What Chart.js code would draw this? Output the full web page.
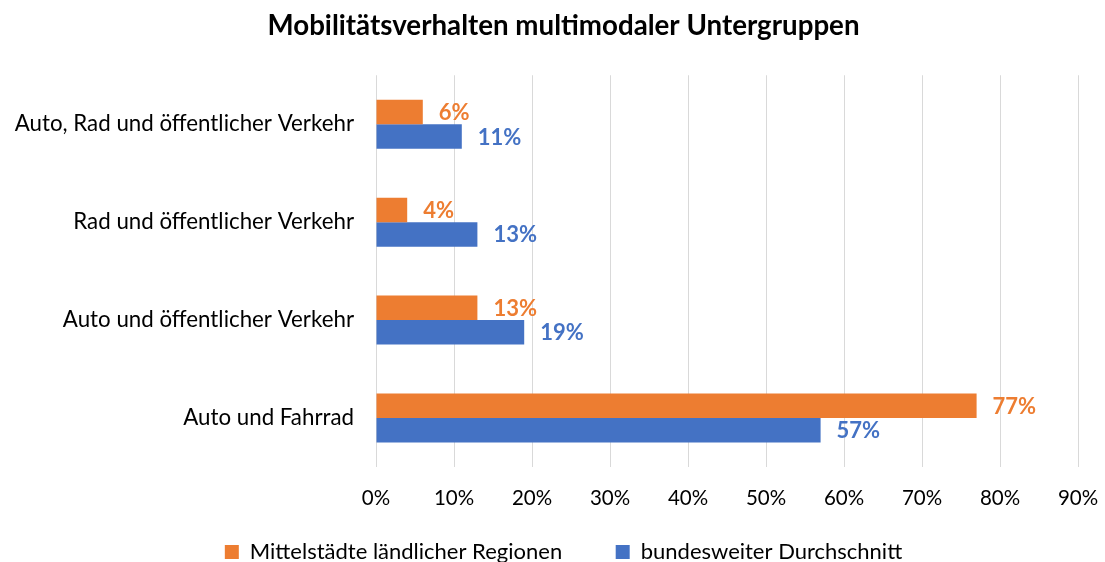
<!DOCTYPE html>
<html>
<head>
<meta charset="utf-8">
<script src="https://cdn.jsdelivr.net/npm/chart.js@4/dist/chart.umd.min.js"></script>
<style>
html,body{margin:0;padding:0;background:#fff;overflow:hidden;}
#wrap{width:1105px;height:562px;}
</style>
</head>
<body>
<div id="wrap"><canvas id="c" width="1105" height="562"></canvas></div>
<script>
const categories = ["Auto, Rad und öffentlicher Verkehr", "Rad und öffentlicher Verkehr", "Auto und öffentlicher Verkehr", "Auto und Fahrrad"];
const seriesNames = ["Mittelstädte ländlicher Regionen", "bundesweiter Durchschnitt"];
const mittelstaedte = [6, 4, 13, 77];
const bundesweit = [11, 13, 19, 57];
const xTicksMax = 90;
const xTickStep = 10;
const titleText = "Mobilitätsverhalten multimodaler Untergruppen";

const FONT = "Lato, 'Open Sans', sans-serif";
const COLORS = ['#ED7D31', '#4472C4'];
const LEFT_PAD = 8;

const valueLabels = {
  id: 'valueLabels',
  afterDatasetsDraw(chart) {
    const ctx = chart.ctx;
    ctx.save();
    chart.data.datasets.forEach((ds, di) => {
      const meta = chart.getDatasetMeta(di);
      meta.data.forEach((bar, i) => {
        ctx.fillStyle = ds.backgroundColor;
        ctx.font = "bold 22px " + FONT;
        ctx.textAlign = 'left';
        ctx.textBaseline = 'middle';
        ctx.fillText(ds.data[i] + '%', bar.x + 16, bar.y + 1);
      });
    });
    ctx.restore();
  }
};

new Chart(document.getElementById('c'), {
  type: 'bar',
  data: {
    labels: categories,
    datasets: [
      { label: seriesNames[0], data: mittelstaedte, backgroundColor: COLORS[0], categoryPercentage: 0.5, barPercentage: 1.0 },
      { label: seriesNames[1], data: bundesweit, backgroundColor: COLORS[1], categoryPercentage: 0.5, barPercentage: 1.0 }
    ]
  },
  options: {
    indexAxis: 'y',
    responsive: false,
    animation: false,
    layout: { padding: { left: LEFT_PAD, right: -14, top: 0, bottom: 0 } },
    plugins: {
      title: { display: true, text: titleText, color: '#000', font: { family: FONT, size: 27.7, weight: 'bold' }, padding: { top: 9, bottom: 33 } },
      legend: {
        position: 'bottom',
        maxHeight: 52,
        labels: {
          color: '#000', font: { family: FONT, size: 22 }, boxWidth: 14, boxHeight: 14, padding: 31,
          generateLabels(chart) {
            const items = Chart.defaults.plugins.legend.labels.generateLabels(chart);
            items.forEach((it, i) => { it.lineWidth = 0; if (i === 0) it.text = it.text + '\u00A0\u00A0\u00A0\u00A0'; });
            return items;
          }
        }
      },
      tooltip: { enabled: false }
    },
    scales: {
      x: {
        min: 0, max: xTicksMax,
        ticks: { stepSize: xTickStep, color: '#000', font: { family: FONT, size: 20.5 }, padding: 19, callback: v => v + '%' },
        grid: { color: '#D9D9D9', drawTicks: false },
        border: { display: false },
        afterFit(scale) { scale.paddingRight = 27; scale.height = 43; }
      },
      y: {
        ticks: { color: '#000', font: { family: FONT, size: 22.3 }, padding: 22 },
        grid: { display: false, drawTicks: false },
        border: { display: false },
        afterFit(scale) { scale.width = 376 - LEFT_PAD; }
      }
    }
  },
  plugins: [valueLabels]
});
</script>
</body>
</html>
